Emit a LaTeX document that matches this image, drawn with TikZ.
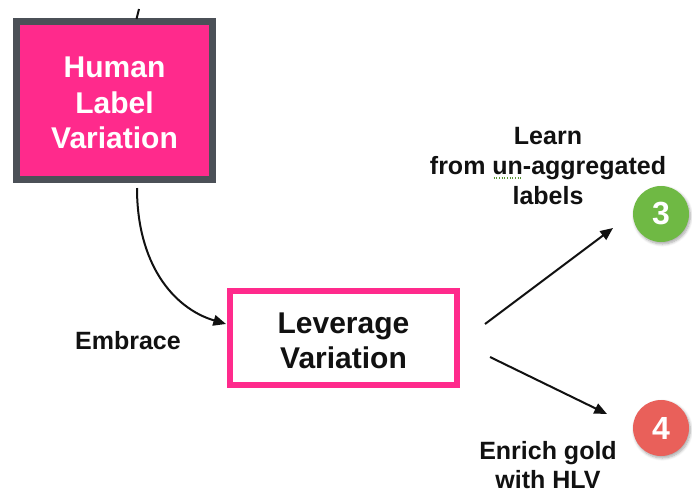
\documentclass[tikz,border=0pt]{standalone}
\usepackage{fontspec}
\setmainfont{Liberation Sans}
\usetikzlibrary{arrows.meta,calc,shadows.blur}
\definecolor{hotpink}{HTML}{FF2A8C}
\definecolor{slate}{HTML}{4B5057}
\definecolor{leafgreen}{HTML}{6FB944}
\definecolor{coral}{HTML}{E9605A}
\definecolor{inkblack}{HTML}{111111}
\begin{document}
\begin{tikzpicture}[x=0.75pt,y=-0.75pt,
  bigbox/.style={draw, rectangle, inner sep=0pt},
  boxtext/.style={align=center, inner sep=0pt,
    font=\fontsize{22.5}{27}\selectfont\bfseries},
  smalltext/.style={align=center, inner sep=0pt, text=inkblack,
    font=\fontsize{18.75}{22.5}\selectfont\bfseries},
  badge/.style={circle, inner sep=0pt, minimum size=56*0.75pt, text=white,
    font=\fontsize{24}{28}\selectfont\bfseries,
    blur shadow={shadow xshift=1pt, shadow yshift=-1.5pt, shadow blur steps=6, shadow opacity=35}},
  link/.style={draw=inkblack, line width=1.5pt,
    -{Triangle[length=9.5pt,width=8pt]}}]
  \useasboundingbox (0,0) rectangle (692,493);

  % main boxes, their titles set slightly below centre
  \node[bigbox, fill=hotpink, draw=slate, line width=5.25pt,
        minimum width=196*0.75pt, minimum height=158*0.75pt,
        label={[boxtext, name=hlvtext, text=white, yshift=-1.9pt]center:Human\\[-0.5pt]Label\\[-0.5pt]Variation}]
    (hlv) at (114.5,100.5) {};
  \node[bigbox, fill=white, draw=hotpink, line width=4.5pt,
        minimum width=227*0.75pt, minimum height=94*0.75pt,
        label={[boxtext, name=levtext, text=inkblack, yshift=-2.25pt]center:Leverage\\[-0.5pt]Variation}]
    (lev) at (343.5,338) {};

  % numbered badges
  \node[badge, fill=leafgreen] (three) at (661,214) {3};
  \node[badge, fill=coral] (four) at (661,428) {4};

  % labels
  \node[smalltext] (embrace) at (128,341) {Embrace};
  \node[smalltext] (learn) at (548,166) {Learn\\[0pt]from un-aggregated\\[0pt]labels};
  \node[smalltext] (enrich) at (548,465) {Enrich gold\\[-0.75pt]with HLV};

  % spell-check dots under "un"
  \coordinate (dotsA) at ($(learn.west)+(64,12)$);
  \coordinate (dotsB) at ($(dotsA)+(27,0)$);
  \draw[leafgreen!80!black, line width=0.9pt, dash pattern=on 0.8pt off 1.2pt] (dotsA) -- (dotsB);

  % incoming stub from above
  \coordinate (stub) at ($(hlv.north)+(24.5,-9)$);
  \draw[inkblack, line width=1.5pt] (stub) -- ($(hlv.north)+(22,1)$);

  % connectors
  \draw[link] ($(hlv.south)+(22.5,5)$)
    .. controls ($(hlv.south)+(22.5,80)$) and ($(hlv.south)+(58,125)$)
    .. ($(lev.west)+(-1,-14)$);
  \draw[link] ($(lev.east)+(25,-14)$) -- ($(three.center)+(-48,14)$);
  \draw[link] ($(lev.east)+(30,19)$) -- ($(four.center)+(-54,-14)$);
\end{tikzpicture}
\end{document}
